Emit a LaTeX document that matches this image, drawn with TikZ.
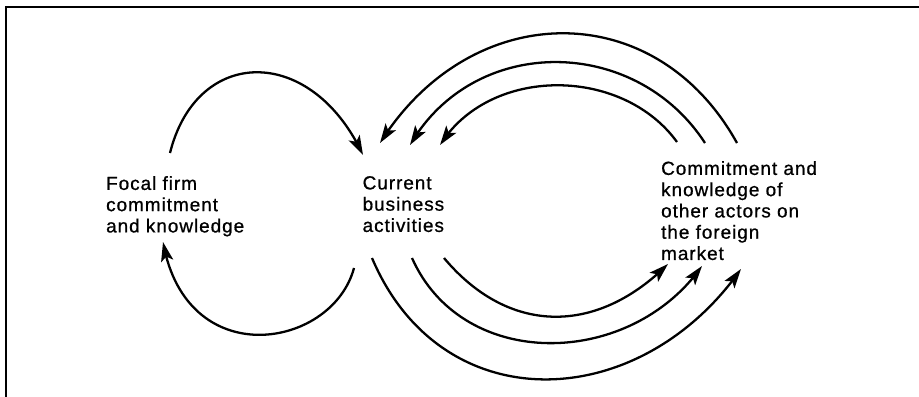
\documentclass[tikz,border=0pt]{standalone}
\usepackage{fontspec}
\setmainfont{Liberation Sans}[LetterSpace=5,FakeBold=0.8]
\usetikzlibrary{arrows.meta,bending}

\begin{document}
\begin{tikzpicture}[->,>={Stealth[length=11pt,width=7pt,inset=2.5pt]},
    line width=1.3pt,
    boxtext/.style={anchor=north west,
                    align=left,
                    inner sep=0pt,
                    font=\fontsize{10.8}{12.1}\selectfont}]

    \useasboundingbox (0,0) rectangle (18.38,-7.94);
    % frame
    \draw[-,line width=0.9pt] (0.12,-7.94) -- (0.12,-0.14) -- (18.38,-0.14);

    \node[boxtext] (focal) at (2.10,-3.50) {Focal firm\\commitment\\and knowledge};
    \node[boxtext] (current) at (7.23,-3.50) {Current\\business\\activities};
    \node[boxtext] (other) at (13.20,-3.20) {Commitment and\\knowledge of\\other actors on\\the foreign\\market};

    % loop between focal firm and current activities
    \coordinate (focalUp) at (3.40,-3.06);
    \coordinate (currentIn) at (7.26,-3.10);
    \coordinate (currentOut) at (7.08,-5.36);
    \coordinate (focalDown) at (3.26,-4.84);

    % arcs from the other actors
    \coordinate (otherOut1) at (13.54,-2.84);
    \coordinate (otherOut2) at (14.10,-2.86);
    \coordinate (otherOut3) at (14.74,-2.86);
    \coordinate (currentIn1) at (8.80,-2.90);
    \coordinate (currentIn2) at (8.20,-2.90);
    \coordinate (currentIn3) at (7.60,-2.86);

    % arcs to the other actors
    \coordinate (currentOut1) at (8.88,-5.16);
    \coordinate (currentOut2) at (8.24,-5.16);
    \coordinate (currentOut3) at (7.44,-5.16);
    \coordinate (otherIn1) at (13.36,-5.28);
    \coordinate (otherIn2) at (14.04,-5.32);
    \coordinate (otherIn3) at (14.82,-5.38);

    \path
    (focalUp) edge [out=76,in=115,out looseness=1.46,in looseness=1.62] (currentIn)
    (currentOut) edge [out=-105,in=-80,out looseness=1.11,in looseness=1.78] (focalDown)
    (otherOut1) edge [out=126,in=58,looseness=1.01] (currentIn1)
    (otherOut2) edge [out=123,in=60,looseness=1.11] (currentIn2)
    (otherOut3) edge [out=119,in=58,looseness=1.22] (currentIn3)
    (currentOut1) edge [out=-50,in=-135,looseness=1.15] (otherIn1)
    (currentOut2) edge [out=-66,in=-125,looseness=1.10] (otherIn2)
    (currentOut3) edge [out=-67,in=-125,looseness=1.23] (otherIn3);

\end{tikzpicture}
\end{document}
